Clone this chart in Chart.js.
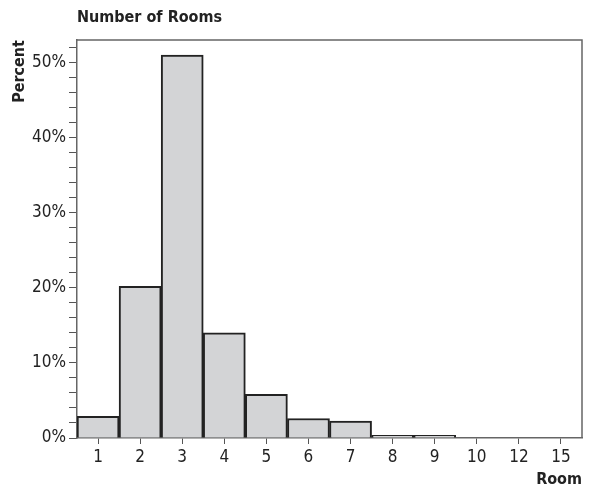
<!DOCTYPE html>
<html>
<head>
<meta charset="utf-8">
<script src="https://cdn.jsdelivr.net/npm/chart.js@4"></script>
<style>
html,body{margin:0;padding:0;background:#fff;}
#wrap{width:597px;height:489px;position:relative;}
</style>
</head>
<body>
<div id="wrap"><canvas id="c" width="597" height="489"></canvas></div>
<script>
const categories = ["1","2","3","4","5","6","7","8","9","10","12","15"];
const percentValues = [2.9, 20.2, 51.0, 14.0, 5.8, 2.6, 2.25, 0.35, 0.35, 0, 0, 0];
const yTickLabels = [0, 10, 20, 30, 40, 50];
const chartTitle = "Number of Rooms";
const yTitle = "Percent";
const xTitle = "Room";

const FONT = "'Liberation Sans Narrow', 'DejaVu Sans Condensed', 'Liberation Sans', sans-serif";

const framePlugin = {
  id: 'frame',
  afterDraw(chart) {
    const {ctx, chartArea} = chart;
    ctx.save();
    ctx.strokeStyle = '#666';
    ctx.lineWidth = 1.5;
    ctx.beginPath();
    ctx.moveTo(chartArea.left, chartArea.top);
    ctx.lineTo(chartArea.right, chartArea.top);
    ctx.lineTo(chartArea.right, chartArea.bottom);
    ctx.stroke();
    ctx.fillStyle = '#222';
    ctx.font = "bold 16px " + FONT;
    ctx.textAlign = 'left';
    ctx.textBaseline = 'middle';
    ctx.fillText(chartTitle, chartArea.left, 18);
    ctx.restore();
  }
};

new Chart(document.getElementById('c'), {
  type: 'bar',
  data: {
    labels: categories,
    datasets: [{
      data: percentValues,
      backgroundColor: '#d3d4d6',
      borderColor: '#222',
      borderWidth: 2,
      barPercentage: 1,
      categoryPercentage: 1,
      borderSkipped: 'bottom'
    }]
  },
  options: {
    responsive: false,
    animation: false,
    layout: { padding: { left: 0, top: 40, right: 15, bottom: 0 } },
    plugins: { legend: { display: false }, tooltip: { enabled: false } },
    scales: {
      x: {
        afterFit(s) { s.height = 51; },
        grid: { offset: false, drawOnChartArea: false, tickLength: 6, color: '#555', tickWidth: 1 },
        border: { color: '#666', width: 1.5 },
        ticks: { color: '#222', font: { family: FONT, size: 17 }, padding: 3, maxRotation: 0, autoSkip: false },
        title: { display: true, text: xTitle, align: 'end', color: '#222', font: { family: FONT, size: 16, weight: 'bold' }, padding: { top: 0, bottom: 0 } }
      },
      y: {
        min: 0, max: 53,
        afterFit(s) { s.width = 77; },
        grid: { drawOnChartArea: false, tickLength: 8, color: '#555', tickWidth: 1 },
        border: { color: '#666', width: 1.5 },
        ticks: {
          stepSize: 2,
          includeBounds: false,
          autoSkip: false,
          color: '#222',
          padding: 3,
          font: { family: FONT, size: 17 },
          callback(v) { return yTickLabels.includes(v) ? v + '%' : ''; }
        },
        title: { display: true, text: yTitle, align: 'end', color: '#222', font: { family: FONT, size: 16, weight: 'bold' }, padding: { top: 10, bottom: 0 } }
      }
    }
  },
  plugins: [framePlugin]
});
</script>
</body>
</html>
